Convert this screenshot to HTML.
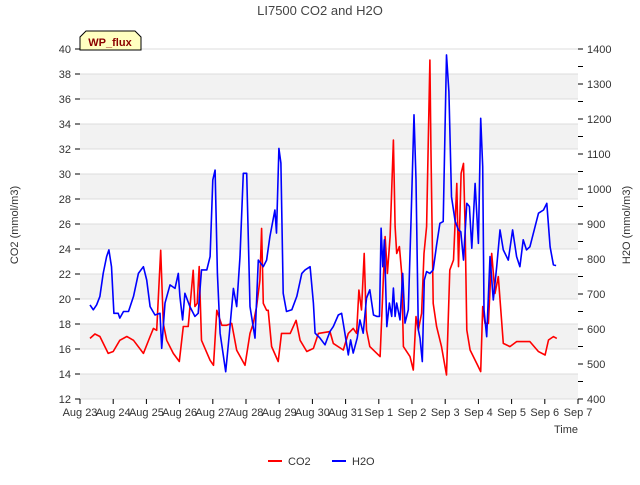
<!DOCTYPE html>
<html><head><meta charset="utf-8"><style>
body{margin:0;background:#fff;}
svg text{font-family:"Liberation Sans",sans-serif;}
</style></head><body>
<svg id="chart" width="640" height="480" xmlns="http://www.w3.org/2000/svg">
<text x="320" y="15" text-anchor="middle" font-size="13" fill="#444">LI7500 CO2 and H2O</text>
<g id="bands"></g><g id="grid"></g><g id="axes"></g>
<g id="series"></g>
<text transform="translate(18,225) rotate(-90)" text-anchor="middle" font-size="11" fill="#333">CO2 (mmol/m3)</text>
<text transform="translate(630,225) rotate(-90)" text-anchor="middle" font-size="11" fill="#333">H2O (mmol/m3)</text>
<text x="566" y="433" text-anchor="middle" font-size="11" fill="#333">Time</text>
<g>
<path d="M80,50 L80,37 L86,31 L135,31 L141,37 L141,50 Z" fill="#ffffc0" stroke="#000" stroke-width="1"/>
<text x="110" y="46" text-anchor="middle" font-size="11" font-weight="bold" fill="#8b0000">WP_flux</text>
</g>
<g>
<g><line x1="268" y1="461" x2="282" y2="461" stroke="#f00" stroke-width="2"/><text x="288" y="465" font-size="11" fill="#333">CO2</text></g>
<g><line x1="332" y1="461" x2="346" y2="461" stroke="#00f" stroke-width="2"/><text x="352" y="465" font-size="11" fill="#333">H2O</text></g>
</g>
</svg>
<script>
const xTickLabels=["Aug 23","Aug 24","Aug 25","Aug 26","Aug 27","Aug 28","Aug 29","Aug 30","Aug 31","Sep 1","Sep 2","Sep 3","Sep 4","Sep 5","Sep 6","Sep 7"];
const leftTicks=[12,14,16,18,20,22,24,26,28,30,32,34,36,38,40];
const rightTicks=[400,500,600,700,800,900,1000,1100,1200,1300,1400];
const co2Days=[0.30,0.45,0.60,0.85,1.0,1.2,1.41,1.61,1.91,2.11,2.21,2.31,2.43,2.51,2.61,2.81,2.99,3.11,3.26,3.41,3.46,3.53,3.59,3.66,3.92,4.02,4.12,4.27,4.42,4.57,4.72,4.97,5.12,5.22,5.32,5.42,5.47,5.52,5.62,5.67,5.77,5.97,6.07,6.33,6.51,6.63,6.83,7.03,7.18,7.53,7.63,7.93,8.08,8.23,8.33,8.40,8.48,8.56,8.63,8.73,9.04,9.19,9.26,9.34,9.44,9.49,9.54,9.62,9.69,9.74,9.94,10.04,10.12,10.19,10.29,10.36,10.44,10.49,10.54,10.57,10.64,10.74,10.89,11.04,11.14,11.25,11.35,11.40,11.48,11.55,11.60,11.65,11.75,11.95,12.07,12.13,12.20,12.30,12.40,12.50,12.60,12.75,12.95,13.15,13.55,13.81,14.01,14.11,14.26,14.36];
const co2Values=[16.85,17.2,17.0,15.65,15.8,16.7,17.0,16.7,15.65,17.0,17.65,17.5,23.9,18.05,16.7,15.65,15.0,17.8,17.8,22.3,19.4,19.65,22.6,16.7,15.1,14.7,19.1,17.9,17.9,18.05,15.9,14.7,17.25,18.05,19.4,21.5,25.65,19.65,19.1,19.1,16.2,15.0,17.25,17.25,18.3,16.7,15.8,16.05,17.25,17.39,16.45,15.92,17.25,17.65,17.25,20.72,19.12,23.65,17.52,16.19,15.39,24.99,22.05,24.99,32.72,25.79,23.65,24.19,22.05,16.19,15.39,14.32,18.59,17.52,18.85,23.65,25.79,32.72,39.12,32.19,19.65,17.79,16.19,13.92,22.32,23.12,29.25,22.59,30.05,30.85,25.79,17.52,15.92,14.85,14.19,19.39,18.05,18.05,23.65,20.45,21.79,16.45,16.19,16.59,16.59,15.79,15.52,16.72,16.99,16.85];
const h2oDays=[0.30,0.40,0.50,0.60,0.70,0.80,0.87,0.95,1.02,1.15,1.20,1.31,1.46,1.61,1.76,1.91,2.01,2.11,2.26,2.41,2.46,2.56,2.71,2.86,2.96,3.01,3.09,3.16,3.31,3.46,3.56,3.66,3.82,3.92,4.00,4.07,4.14,4.22,4.39,4.50,4.62,4.72,4.82,4.92,5.02,5.12,5.27,5.37,5.52,5.62,5.72,5.87,5.92,5.99,6.05,6.12,6.22,6.38,6.53,6.68,6.78,6.93,7.03,7.08,7.23,7.38,7.53,7.63,7.78,7.88,7.98,8.08,8.15,8.23,8.35,8.43,8.53,8.63,8.73,8.84,8.94,9.02,9.07,9.12,9.17,9.24,9.32,9.39,9.44,9.49,9.54,9.64,9.72,9.79,9.89,9.97,10.06,10.12,10.19,10.24,10.31,10.37,10.44,10.54,10.64,10.74,10.84,10.94,11.04,11.11,11.19,11.30,11.40,11.47,11.55,11.65,11.73,11.80,11.90,12.00,12.07,12.13,12.17,12.25,12.35,12.45,12.55,12.65,12.75,12.90,13.03,13.15,13.25,13.35,13.45,13.55,13.81,13.96,14.06,14.16,14.26,14.34];
const h2oValues=[669,655,669,693,759,807,826,778,645,645,631,650,650,693,759,778,740,664,640,645,545,674,726,716,759,693,626,702,664,636,645,769,769,807,1026,1054,759,588,478,588,716,664,807,1045,1045,664,574,797,778,797,864,940,874,1116,1074,702,650,655,693,759,769,778,674,588,574,555,593,607,640,645,588,526,569,531,574,626,588,688,712,640,636,636,888,778,855,607,674,636,717,636,674,626,759,617,655,907,1212,1026,598,574,507,740,764,759,769,840,902,907,1383,1278,978,907,883,878,797,959,950,831,1016,845,1202,1064,655,578,807,683,778,883,826,797,883,807,778,855,826,835,931,940,959,835,783,781];

const X0=80,X1=578,YT=49,YB=399;
const xs=d=>X0+d*(X1-X0)/15;
const yL=v=>YB-(v-12)*(YB-YT)/28;
const yR=v=>YB-(v-400)*(YB-YT)/1000;
const NS="http://www.w3.org/2000/svg";
function mk(tag,attrs,parent){const e=document.createElementNS(NS,tag);for(const k in attrs)e.setAttribute(k,attrs[k]);document.getElementById(parent).appendChild(e);return e;}

for(let i=0;i<leftTicks.length-1;i++){
  if(i%2===0){
    const b=mk('rect',{x:X0,y:yL(leftTicks[i+1]),width:X1-X0,height:yL(leftTicks[i])-yL(leftTicks[i+1]),fill:'#f2f2f2'},'bands');
    
    
  }
}
leftTicks.forEach(v=>{
  const g=mk('line',{x1:X0,x2:X1,y1:yL(v),y2:yL(v),stroke:'#dcdcdc','stroke-width':1},'grid');
  
  
  const t=mk('line',{x1:X0-5,x2:X0,y1:yL(v),y2:yL(v),stroke:'#000'},'axes');
  
  
  const l=mk('text',{x:X0-9,y:yL(v)+4,'text-anchor':'end','font-size':11,fill:'#333'},'axes');
  l.textContent=v;
  
  
});
rightTicks.forEach((v,i)=>{
  const t=mk('line',{x1:X1,x2:X1+5,y1:yR(v),y2:yR(v),stroke:'#000'},'axes');
  
  
  if(i<rightTicks.length-1){
    const m=mk('line',{x1:X1,x2:X1+5,y1:yR(v+50),y2:yR(v+50),stroke:'#000'},'axes');
    
    
  }
  const l=mk('text',{x:X1+9,y:yR(v)+4,'font-size':11,fill:'#333'},'axes');
  l.textContent=v;
  
  
});
xTickLabels.forEach((s,i)=>{
  const t=mk('line',{x1:xs(i),x2:xs(i),y1:YB,y2:YB+5,stroke:'#000'},'axes');
  
  
  const l=mk('text',{x:xs(i),y:YB+17,'text-anchor':'middle','font-size':11,fill:'#333'},'axes');
  l.textContent=s;
  
  
});
const co2=mk('polyline',{points:co2Days.map((d,i)=>xs(d).toFixed(1)+','+yL(co2Values[i]).toFixed(1)).join(' '),fill:'none',stroke:'#f00','stroke-width':1.6,'stroke-linejoin':'round'},'series');


const h2o=mk('polyline',{points:h2oDays.map((d,i)=>xs(d).toFixed(1)+','+yR(h2oValues[i]).toFixed(1)).join(' '),fill:'none',stroke:'#00f','stroke-width':1.6,'stroke-linejoin':'round'},'series');


</script>
</body></html>
